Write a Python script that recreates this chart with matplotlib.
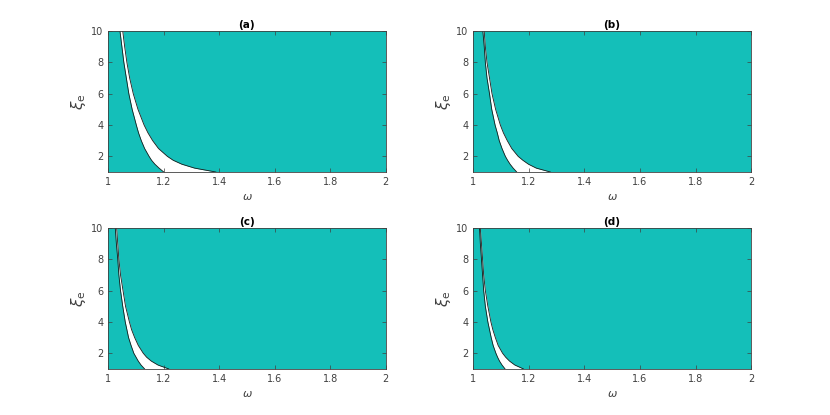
import numpy as np
import matplotlib
matplotlib.use("Agg")
import matplotlib.pyplot as plt

# xi_e levels where the boundary curves were read
xi_levels = [10, 9, 8, 7, 6, 5, 4, 3.5, 3, 2.5, 2, 1.75, 1.5, 1.25, 1]

# omega of the left / right boundary of the white band, per panel
left_a = [1.042, 1.049, 1.056, 1.065, 1.074, 1.086, 1.101, 1.109, 1.119, 1.131,
          1.147, 1.156, 1.168, 1.183, 1.200]
right_a = [1.052, 1.059, 1.067, 1.077, 1.090, 1.107, 1.129, 1.143, 1.160, 1.181,
           1.213, 1.234, 1.265, 1.311, 1.388]
left_b = [1.035, 1.040, 1.044, 1.050, 1.059, 1.067, 1.079, 1.087, 1.094, 1.104,
          1.116, 1.124, 1.133, 1.144, 1.157]
right_b = [1.040, 1.044, 1.050, 1.059, 1.068, 1.081, 1.098, 1.109, 1.123, 1.139,
           1.162, 1.179, 1.199, 1.227, 1.278]
left_c = [1.025, 1.029, 1.034, 1.038, 1.044, 1.052, 1.061, 1.067, 1.073, 1.082,
          1.092, 1.100, 1.108, 1.118, 1.131]
right_c = [1.030, 1.034, 1.038, 1.044, 1.053, 1.062, 1.076, 1.084, 1.095, 1.108,
           1.126, 1.138, 1.155, 1.179, 1.218]
left_d = [1.023, 1.026, 1.030, 1.034, 1.038, 1.044, 1.053, 1.059, 1.065, 1.072,
          1.082, 1.088, 1.095, 1.104, 1.115]
right_d = [1.026, 1.030, 1.034, 1.038, 1.044, 1.053, 1.064, 1.071, 1.080, 1.090,
           1.106, 1.117, 1.131, 1.150, 1.181]

titles = ["(a)", "(b)", "(c)", "(d)"]
x_ticks = [1, 1.2, 1.4, 1.6, 1.8, 2]
x_tick_labels = ["1", "1.2", "1.4", "1.6", "1.8", "2"]
y_ticks = [2, 4, 6, 8, 10]

teal = "#14bfb9"

fig = plt.figure(figsize=(8.3, 4.15), dpi=100)
positions = [
    [0.1305, 0.5855, 0.334, 0.3395],
    [0.570, 0.5855, 0.335, 0.3395],
    [0.1305, 0.111, 0.334, 0.340],
    [0.570, 0.111, 0.335, 0.340],
]
curves = [(left_a, right_a), (left_b, right_b), (left_c, right_c), (left_d, right_d)]

for pos, (lc, rc), title in zip(positions, curves, titles):
    ax = fig.add_axes(pos)
    ax.set_facecolor(teal)
    ax.fill_betweenx(xi_levels, lc, rc, color="white", linewidth=0)
    ax.plot(lc, xi_levels, color="#1a1a1a", linewidth=0.6)
    ax.plot(rc, xi_levels, color="#1a1a1a", linewidth=0.6)
    ax.set_xlim(1, 2)
    ax.set_ylim(1, 10)
    ax.set_xticks(x_ticks)
    ax.set_xticklabels(x_tick_labels)
    ax.set_yticks(y_ticks)
    ax.tick_params(direction="in", top=True, right=True, labelsize=7,
                   colors="#404040", length=3, width=0.5)
    for s in ax.spines.values():
        s.set_color("#404040")
        s.set_linewidth(0.6)
    ax.set_title(title, fontsize=7.5, fontweight="bold", pad=2)
    ax.set_xlabel(r"$\omega$", fontsize=8, color="#404040")
    ax.set_ylabel(r"$\xi_\mathrm{e}$", fontsize=11, color="#404040", labelpad=2)

fig.savefig("out.png", dpi=100)
